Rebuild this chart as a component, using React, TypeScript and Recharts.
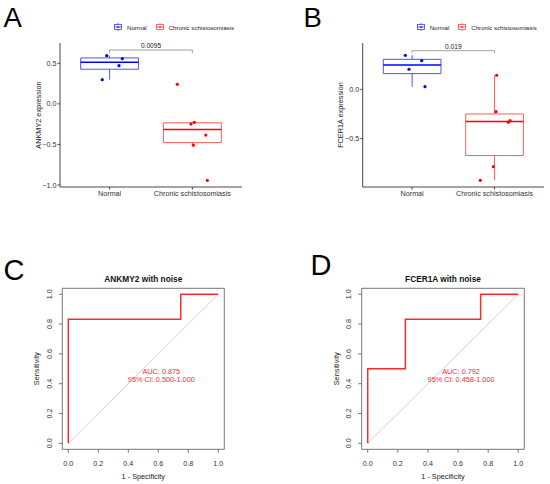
import React from "react";
import {
  ComposedChart,
  Scatter,
  Line,
  XAxis,
  YAxis,
  ReferenceArea,
  ReferenceLine,
  ReferenceDot,
  Legend,
} from "recharts";

const FONT = '"Liberation Sans", Arial, sans-serif';

const groups = ["Normal", "Chronic schistosomiasis"];
const groupColors = ["#0000ff", "#ff0000"];
const boxColors = ["#3d3dff", "#ff4a4a"];

// jittered x position (1 = Normal, 2 = Chronic) and expression value
const ankmy2NormalX = [0.965, 1.153, 1.113, 0.911];
const ankmy2NormalY = [0.594, 0.557, 0.47, 0.298];
const ankmy2ChronicX = [1.818, 2.024, 1.984, 2.162, 2.012, 2.181];
const ankmy2ChronicY = [0.241, -0.228, -0.249, -0.385, -0.509, -0.944];

const fcer1aNormalX = [0.917, 1.116, 0.962, 1.156];
const fcer1aNormalY = [0.344, 0.29, 0.203, 0.026];
const fcer1aChronicX = [2.026, 2.018, 2.188, 2.167, 1.985, 1.827];
const fcer1aChronicY = [0.142, -0.227, -0.318, -0.334, -0.784, -0.922];

const ankmy2Ticks = [-1, -0.5, 0, 0.5];
const fcer1aTicks = [-0.5, 0];

// ROC curves
const rocTicks = [0, 0.2, 0.4, 0.6, 0.8, 1];
const ankmy2Fpr = [0, 0, 0.75, 0.75, 1];
const ankmy2Tpr = [0, 0.833, 0.833, 1, 1];
const fcer1aFpr = [0, 0, 0.25, 0.25, 0.75, 0.75, 1];
const fcer1aTpr = [0, 0.5, 0.5, 0.833, 0.833, 1, 1];
const diagonal = [
  { x: 0, y: 0 },
  { x: 1, y: 1 },
];

const HALF = 0.35;

function quantile(sorted: number[], p: number) {
  const h = (sorted.length - 1) * p;
  const lo = Math.floor(h);
  const hi = Math.min(lo + 1, sorted.length - 1);
  return sorted[lo] + (h - lo) * (sorted[hi] - sorted[lo]);
}

function boxStats(values: number[]) {
  const s = [...values].sort((a, b) => a - b);
  const q1 = quantile(s, 0.25);
  const median = quantile(s, 0.5);
  const q3 = quantile(s, 0.75);
  const iqr = q3 - q1;
  const upper = Math.max(...s.filter((v) => v <= q3 + 1.5 * iqr));
  const lower = Math.min(...s.filter((v) => v >= q1 - 1.5 * iqr));
  return { q1, median, q3, upper, lower };
}

const fmtTick = (v: number) => (v === 0 ? "0.0" : v.toFixed(1).replace("-", "\u2212"));

function LegendKey({ color }: { color: string }) {
  return (
    <svg width={8} height={8} style={{ display: "block" }}>
      <line x1={4} y1={0} x2={4} y2={8} stroke={color} strokeWidth={0.8} />
      <rect x={0.5} y={1.5} width={7} height={5} fill="#fff" stroke={color} strokeWidth={0.8} />
      <line x1={0.5} y1={4} x2={7.5} y2={4} stroke={color} strokeWidth={0.9} />
      <circle cx={4} cy={4} r={1.1} fill={color} />
    </svg>
  );
}

function BoxLegend() {
  return (
    <div style={{ display: "flex", alignItems: "center", fontFamily: FONT, fontSize: 6.1, color: "#222" }}>
      {groups.map((g, i) => (
        <div key={g} style={{ display: "flex", alignItems: "center", marginRight: 9 }}>
          <LegendKey color={boxColors[i]} />
          <span style={{ marginLeft: 5 }}>{g}</span>
        </div>
      ))}
    </div>
  );
}

function BoxPanel({
  left,
  yAxisWidth,
  rightMargin,
  yLabel,
  domain,
  ticks,
  normalX,
  normalY,
  chronicX,
  chronicY,
  pValue,
  bracketY,
  bracketDrop,
  legendLeft,
}: any) {
  const normal = normalX.map((x: number, i: number) => ({ x, y: normalY[i] }));
  const chronic = chronicX.map((x: number, i: number) => ({ x, y: chronicY[i] }));
  const stats = [boxStats(normalY), boxStats(chronicY)];

  const boxEls = stats.flatMap((s, i) => {
    const c = i + 1;
    const col = boxColors[i];
    const els = [];
    if (s.upper > s.q3)
      els.push(
        <ReferenceLine key={`wu${i}`} segment={[{ x: c, y: s.q3 }, { x: c, y: s.upper }]} stroke={col} strokeWidth={0.9} />
      );
    if (s.lower < s.q1)
      els.push(
        <ReferenceLine key={`wl${i}`} segment={[{ x: c, y: s.q1 }, { x: c, y: s.lower }]} stroke={col} strokeWidth={0.9} />
      );
    els.push(
      <ReferenceArea
        key={`box${i}`}
        x1={c - HALF}
        x2={c + HALF}
        y1={s.q1}
        y2={s.q3}
        fill="#fff"
        fillOpacity={1}
        stroke={col}
        strokeWidth={0.9}
        ifOverflow="visible"
      />
    );
    els.push(
      <ReferenceLine
        key={`med${i}`}
        segment={[{ x: c - HALF, y: s.median }, { x: c + HALF, y: s.median }]}
        stroke={groupColors[i]}
        strokeWidth={1.4}
      />
    );
    return els;
  });

  return (
    <div style={{ position: "absolute", left, top: 0 }}>
      <ComposedChart width={275} height={210} margin={{ top: 43, right: rightMargin, left: 0, bottom: 0 }}>
        <XAxis
          type="number"
          dataKey="x"
          domain={[0.4, 2.6]}
          allowDataOverflow
          ticks={[1, 2]}
          tickFormatter={(v: number) => groups[v - 1]}
          height={23}
          tickSize={2.5}
          tickMargin={1.5}
          axisLine={{ stroke: "#333", strokeWidth: 0.9 }}
          tickLine={{ stroke: "#333", strokeWidth: 0.9 }}
          tick={{ fontSize: 7.2, fill: "#333", fontFamily: FONT }}
        />
        <YAxis
          type="number"
          dataKey="y"
          domain={domain}
          allowDataOverflow
          ticks={ticks}
          tickFormatter={fmtTick}
          width={yAxisWidth}
          tickSize={2.5}
          tickMargin={1}
          axisLine={{ stroke: "#333", strokeWidth: 0.9 }}
          tickLine={{ stroke: "#333", strokeWidth: 0.9 }}
          tick={{ fontSize: 7.2, fill: "#333", fontFamily: FONT }}
          label={(p: any) => {
            const vb = p.viewBox;
            const x = vb.x + vb.width - 22;
            const y = vb.y + vb.height / 2;
            return (
              <text
                x={x}
                y={y}
                transform={`rotate(-90 ${x} ${y})`}
                textAnchor="middle"
                dy="0.35em"
                fontSize={7.3}
                fill="#222"
                fontFamily={FONT}
              >
                {yLabel}
              </text>
            );
          }}
        />
        <Legend
          verticalAlign="middle"
          layout="horizontal"
          wrapperStyle={{ top: 23, left: legendLeft, width: 170, height: 9 }}
          content={() => <BoxLegend />}
        />
        {boxEls}
        <ReferenceLine
          segment={[{ x: 1, y: bracketY }, { x: 2, y: bracketY }]}
          stroke="#999"
          strokeWidth={0.9}
          label={{ value: pValue, position: "top", offset: 2, fontSize: 6.6, fill: "#222", fontFamily: FONT }}
        />
        <ReferenceLine segment={[{ x: 1, y: bracketY }, { x: 1, y: bracketDrop }]} stroke="#999" strokeWidth={0.9} />
        <ReferenceLine segment={[{ x: 2, y: bracketY }, { x: 2, y: bracketDrop }]} stroke="#999" strokeWidth={0.9} />
        <Scatter
          data={normal}
          fill={groupColors[0]}
          isAnimationActive={false}
          shape={(p: any) => <circle cx={p.cx} cy={p.cy} r={1.6} fill={groupColors[0]} />}
        />
        <Scatter
          data={chronic}
          fill={groupColors[1]}
          isAnimationActive={false}
          shape={(p: any) => <circle cx={p.cx} cy={p.cy} r={1.6} fill={groupColors[1]} />}
        />
      </ComposedChart>
    </div>
  );
}

function RotTick(p: any) {
  return (
    <text
      x={p.x}
      y={p.y}
      transform={`rotate(-90 ${p.x} ${p.y})`}
      textAnchor="middle"
      fontSize={7.2}
      fill="#333"
      fontFamily={FONT}
    >
      {p.payload.value.toFixed(1)}
    </text>
  );
}

function RocPanel({ left, yAxisWidth, rightMargin, fpr, tpr, auc, ci }: any) {
  const curve = fpr.map((x: number, i: number) => ({ x, y: tpr[i] }));
  const red = "#ff2a2a";
  return (
    <div style={{ position: "absolute", left, top: 240 }}>
      <ComposedChart width={275} height={244} margin={{ top: 48.3, right: rightMargin, left: 0, bottom: 0 }}>
        <XAxis
          type="number"
          dataKey="x"
          domain={[-0.04, 1.04]}
          allowDataOverflow
          ticks={rocTicks}
          tickFormatter={(v: number) => v.toFixed(1)}
          height={34.7}
          axisLine={false}
          tickSize={3.5}
          tickMargin={8}
          tickLine={{ stroke: "#555", strokeWidth: 0.8 }}
          tick={{ fontSize: 7.2, fill: "#333", fontFamily: FONT }}
          label={(p: any) => {
            const vb = p.viewBox;
            return (
              <text
                x={vb.x + vb.width / 2}
                y={vb.y + 27.4}
                dy="0.35em"
                textAnchor="middle"
                fontSize={7.3}
                fill="#222"
                fontFamily={FONT}
              >
                1 - Specificity
              </text>
            );
          }}
        />
        <YAxis
          type="number"
          dataKey="y"
          domain={[-0.04, 1.04]}
          allowDataOverflow
          ticks={rocTicks}
          width={yAxisWidth}
          axisLine={false}
          tickSize={3.5}
          tickMargin={7}
          tickLine={{ stroke: "#555", strokeWidth: 0.8 }}
          tick={RotTick}
          label={(p: any) => {
            const vb = p.viewBox;
            const x = vb.x + vb.width - 25.6;
            const y = vb.y + vb.height / 2;
            return (
              <text
                x={x}
                y={y}
                transform={`rotate(-90 ${x} ${y})`}
                textAnchor="middle"
                dy="0.35em"
                fontSize={7.3}
                fill="#222"
                fontFamily={FONT}
              >
                Sensitivity
              </text>
            );
          }}
        />
        <ReferenceArea
          x1={-0.04}
          x2={1.04}
          y1={-0.04}
          y2={1.04}
          fill="none"
          stroke="#555"
          strokeWidth={0.8}
          ifOverflow="visible"
        />
        <Line data={diagonal} dataKey="y" stroke="#c8c8c8" strokeWidth={0.8} dot={false} isAnimationActive={false} />
        <Line data={curve} dataKey="y" stroke={red} strokeWidth={1.5} dot={false} isAnimationActive={false} />
        <ReferenceDot
          x={0.62}
          y={0.485}
          r={0}
          fill="none"
          stroke="none"
          label={{ value: auc, position: "center", fontSize: 7.3, fill: red, fontFamily: FONT }}
        />
        <ReferenceDot
          x={0.62}
          y={0.43}
          r={0}
          fill="none"
          stroke="none"
          label={{ value: ci, position: "center", fontSize: 7.3, fill: red, fontFamily: FONT }}
        />
      </ComposedChart>
    </div>
  );
}

export default function App() {
  return (
    <div
      style={{
        position: "absolute",
        left: 0,
        top: 0,
        width: 550,
        height: 484,
        background: "#fff",
        overflow: "hidden",
        fontFamily: FONT,
      }}
    >
      <BoxPanel
        left={0}
        yAxisWidth={60}
        rightMargin={33}
        yLabel="ANKMY2 expression"
        domain={[-1.025, 0.75]}
        ticks={ankmy2Ticks}
        normalX={ankmy2NormalX}
        normalY={ankmy2NormalY}
        chronicX={ankmy2ChronicX}
        chronicY={ankmy2ChronicY}
        pValue="0.0095"
        bracketY={0.664}
        bracketDrop={0.623}
        legendLeft={114}
      />
      <BoxPanel
        left={275}
        yAxisWidth={87.7}
        rightMargin={6}
        yLabel="FCER1A expression"
        domain={[-0.99, 0.469]}
        ticks={fcer1aTicks}
        normalX={fcer1aNormalX}
        normalY={fcer1aNormalY}
        chronicX={fcer1aChronicX}
        chronicY={fcer1aChronicY}
        pValue="0.019"
        bracketY={0.391}
        bracketDrop={0.365}
        legendLeft={141.7}
      />
      <RocPanel
        left={0}
        yAxisWidth={62.3}
        rightMargin={50.7}
        fpr={ankmy2Fpr}
        tpr={ankmy2Tpr}
        auc="AUC: 0.875"
        ci="95% CI: 0.500-1.000"
      />
      <RocPanel
        left={275}
        yAxisWidth={86.7}
        rightMargin={25.7}
        fpr={fcer1aFpr}
        tpr={fcer1aTpr}
        auc="AUC: 0.792"
        ci="95% CI: 0.458-1.000"
      />
      <svg
        width={550}
        height={484}
        style={{ position: "absolute", left: 0, top: 0, pointerEvents: "none" }}
      >
        <g fontFamily={FONT} fill="#000">
          <text x={3.5} y={27} fontSize={27.5}>A</text>
          <text x={303.5} y={27} fontSize={27.5}>B</text>
          <text x={3.5} y={279.5} fontSize={29}>C</text>
          <text x={310.5} y={275} fontSize={29}>D</text>
        </g>
        <g fontFamily={FONT} fontWeight="bold" fontSize={8.3} fill="#111" textAnchor="middle">
          <text x={143.3} y={279} dy="0.35em">ANKMY2 with noise</text>
          <text x={443} y={279} dy="0.35em">FCER1A with noise</text>
        </g>
      </svg>
    </div>
  );
}
